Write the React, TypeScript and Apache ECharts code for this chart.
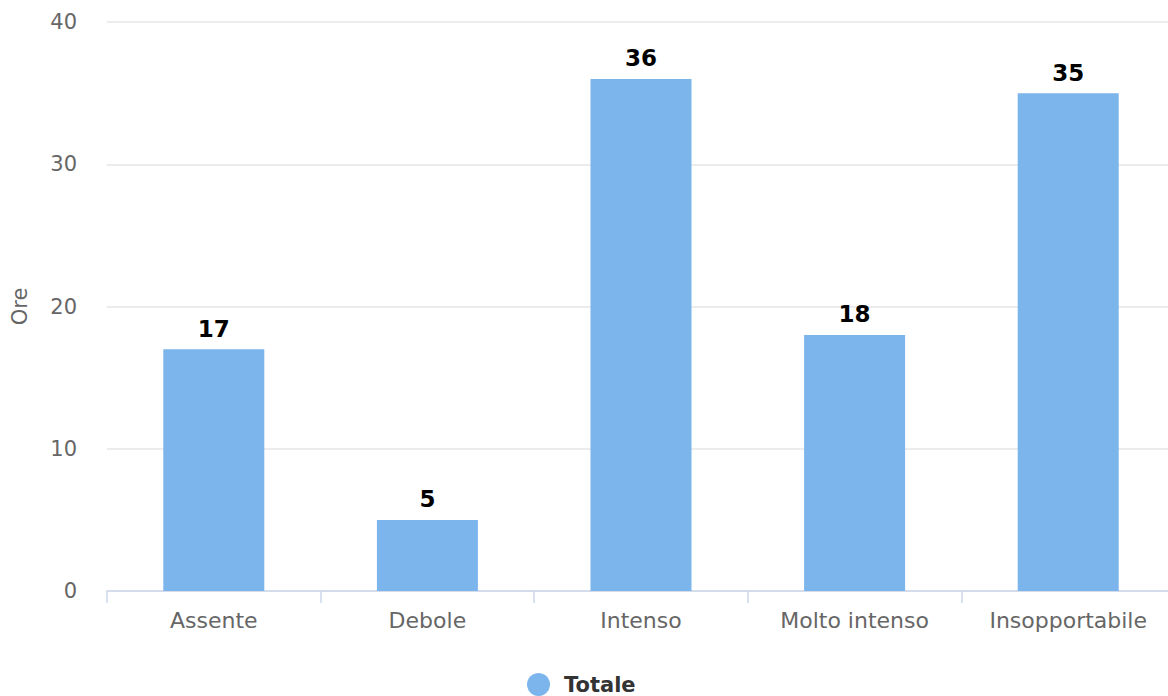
import React, { useEffect, useRef } from "react";
import * as echarts from "echarts";

const categories = ["Assente", "Debole", "Intenso", "Molto intenso", "Insopportabile"];
const totale = [17, 5, 36, 18, 35];
const seriesName = "Totale";
const yAxisName = "Ore";

export default function App() {
  const ref = useRef<HTMLDivElement>(null);
  useEffect(() => {
    if (!ref.current) return;
    const chart = echarts.init(ref.current, null, { renderer: "svg" });
    const font = "DejaVu Sans";
    chart.setOption({
      animation: false,
      textStyle: { fontFamily: font },
      grid: { left: 107, right: 0, top: 22, bottom: 105, containLabel: false },
      legend: {
        data: [seriesName],
        left: 527,
        top: 673,
        padding: 0,
        icon: "circle",
        itemWidth: 23,
        itemHeight: 23,
        itemGap: 10,
        textStyle: {
          fontFamily: font,
          fontSize: 21,
          fontWeight: "bold",
          color: "#333333",
          padding: [0, 0, 0, 9],
        },
      },
      xAxis: {
        type: "category",
        data: categories,
        axisLine: { show: true, lineStyle: { color: "#ccd6eb", width: 1.5 } },
        axisTick: { show: true, length: 12, lineStyle: { color: "#ccd6eb", width: 1.5 } },
        axisLabel: { color: "#666666", fontSize: 22, fontFamily: font, margin: 18 },
        splitLine: { show: false },
      },
      yAxis: {
        type: "value",
        min: 0,
        max: 40,
        interval: 10,
        name: yAxisName,
        nameLocation: "middle",
        nameGap: 77,
        nameRotate: 90,
        nameTextStyle: { color: "#666666", fontSize: 21, fontFamily: font },
        axisLine: { show: false },
        axisTick: { show: false },
        axisLabel: { color: "#666666", fontSize: 21, fontFamily: font, margin: 30 },
        splitLine: { lineStyle: { color: "#e6e6e6", width: 1.5 } },
      },
      series: [
        {
          name: seriesName,
          type: "bar",
          data: totale,
          barWidth: 101,
          itemStyle: { color: "#7cb5ec" },
          label: {
            show: true,
            position: "top",
            distance: 9,
            color: "#000000",
            fontSize: 23,
            fontWeight: "bold",
            fontFamily: font,
          },
        },
      ],
    });
    return () => chart.dispose();
  }, []);
  return (
    <div
      style={{
        position: "absolute",
        left: 0,
        top: 0,
        width: 1168,
        height: 696,
        overflow: "hidden",
        background: "#ffffff",
      }}
    >
      <div ref={ref} style={{ position: "absolute", left: 0, top: 0, width: 1175, height: 696 }} />
    </div>
  );
}
